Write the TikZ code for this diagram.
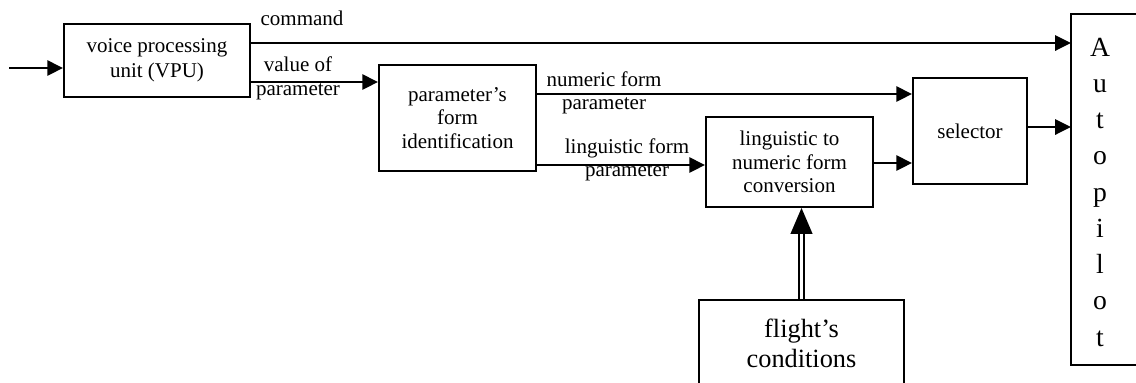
\documentclass[tikz,border=0pt]{standalone}
\usepackage{fontspec}
\setmainfont{Liberation Serif}
\usetikzlibrary{arrows.meta}

\begin{document}
\begin{tikzpicture}[x=0.6pt, y=-0.6pt,
    box/.style={draw, line width=1.1pt, inner sep=0pt, align=center, font=\fontsize{12.6}{14}\selectfont},
    arr/.style={line width=1.7pt, -{Triangle[length=9.5pt, width=9pt]}},
    lbl/.style={align=center, inner sep=0pt, font=\fontsize{12.6}{14}\selectfont}]

    \useasboundingbox (0,0) rectangle (1136,382);

    % Levels of the arrows
    \def\yIn{68}
    \def\yCmd{43}
    \def\yVal{82}
    \def\yNum{94}
    \def\yLing{165}
    \def\yConv{163}
    \def\ySel{127}

    % Blocks
    \node[box, minimum width=111.6pt, minimum height=43.8pt, font=\fontsize{12.6}{15}\selectfont] (vpu) at (157,60.5) {voice processing\\unit (VPU)};
    \node[box, minimum width=94.2pt, minimum height=63.6pt] (ident) at (457.5,118) {parameter’s\\form\\identification};
    \node[box, minimum width=100.2pt, minimum height=54pt] (conv) at (789.5,162) {linguistic to\\numeric form\\conversion};
    \node[box, minimum width=68.4pt, minimum height=63.6pt] (sel) at (970,131) {selector};
    \node[box, minimum width=123pt, minimum height=51.6pt, font=\fontsize{15.8}{18}\selectfont] (flight) at (801.5,343) {flight’s\\conditions};

    % Autopilot (right edge runs off the page)
    \node[box, draw=none, anchor=north west, minimum width=100pt, minimum height=209.4pt] (auto) at (1071,14) {};
    \draw[line width=1.1pt] (auto.north east) -- (auto.north west) -- (auto.south west) -- (auto.south east);
    \node[lbl, font=\fontsize{16.6}{21.75}\selectfont] (autotext) at (1100,192) {A\\u\\t\\o\\p\\i\\l\\o\\t};

    % Input
    \coordinate (In) at (9,\yIn);
    \draw[arr] (In) -- (In -| vpu.west);

    % Command
    \draw[arr] (vpu.east |- 0,\yCmd) -- (auto.west |- 0,\yCmd);
    \node[lbl] (cmdtext) at (302,18) {command};

    % Value of parameter
    \draw[arr] (vpu.east |- 0,\yVal) -- (ident.west |- 0,\yVal);
    \node[lbl] (valtext) at (298,78.5) {value of\\parameter};

    % Numeric form
    \draw[arr] (ident.east |- 0,\yNum) -- (sel.west |- 0,\yNum);
    \node[lbl] (numtext) at (604,93) {numeric form\\parameter};

    % Linguistic form
    \draw[arr] (ident.east |- 0,\yLing) -- (conv.west |- 0,\yLing);
    \node[lbl] (lingtext) at (627,159.5) {linguistic form\\parameter};

    % Conversion to selector, selector to autopilot
    \draw[arr] (conv.east |- 0,\yConv) -- (sel.west |- 0,\yConv);
    \draw[arr] (sel.east |- 0,\ySel) -- (auto.west |- 0,\ySel);

    % Flight's conditions (double line)
    \draw[line width=1.2pt, double, double distance=1.4pt, -{Triangle[length=15.6pt, width=13pt]}] (flight.north) -- (flight.north |- conv.south);
\end{tikzpicture}
\end{document}
